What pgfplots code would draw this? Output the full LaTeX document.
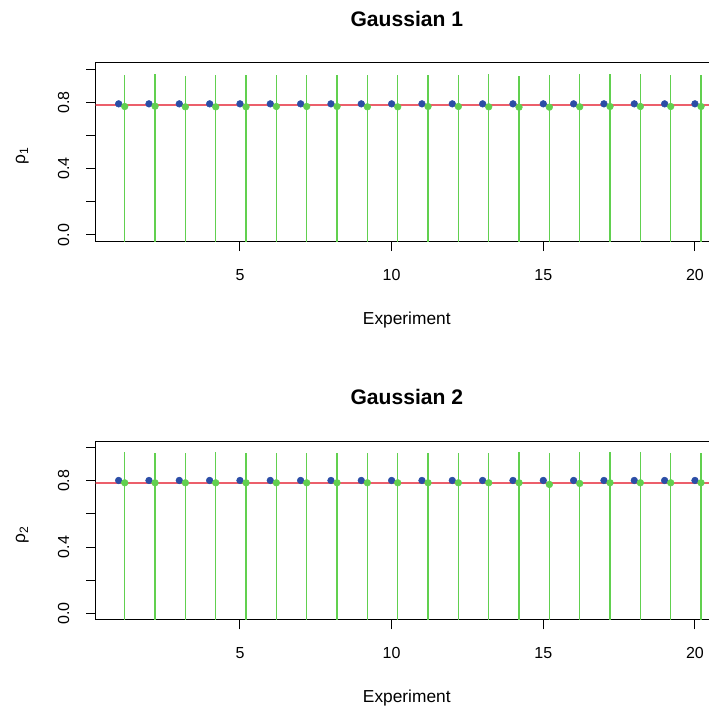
\documentclass[border=0pt]{standalone}
\usepackage{pgfplots}
\pgfplotsset{compat=1.18}
\usepackage{pgfplotstable}
\usepackage{fontspec}
\setmainfont{Liberation Sans}
\definecolor{rblue}{HTML}{2B4DA6}
\definecolor{rgreen}{HTML}{61D04F}
\definecolor{rred}{HTML}{EC5F6B}

% Gaussian 1: blue estimates
\pgfplotstableread{
x y
1 0.792
2 0.792
3 0.792
4 0.792
5 0.792
6 0.792
7 0.792
8 0.792
9 0.792
10 0.792
11 0.792
12 0.792
13 0.792
14 0.792
15 0.792
16 0.792
17 0.792
18 0.792
19 0.792
20 0.792
}\blueA
% Gaussian 1: green estimates with upper/lower extents
\pgfplotstableread{
x y ep em
1.2 0.776 0.191 1.0
2.2 0.778 0.192 1.0
3.2 0.774 0.187 1.0
4.2 0.774 0.190 1.0
5.2 0.774 0.193 1.0
6.2 0.776 0.189 1.0
7.2 0.776 0.192 1.0
8.2 0.776 0.190 1.0
9.2 0.774 0.190 1.0
10.2 0.774 0.193 1.0
11.2 0.776 0.193 1.0
12.2 0.776 0.188 1.0
13.2 0.774 0.196 1.0
14.2 0.772 0.186 1.0
15.2 0.772 0.195 1.0
16.2 0.774 0.199 1.0
17.2 0.776 0.194 1.0
18.2 0.776 0.194 1.0
19.2 0.776 0.188 1.0
20.2 0.776 0.188 1.0
}\greenA
% Gaussian 2: blue estimates
\pgfplotstableread{
x y
1 0.802
2 0.802
3 0.802
4 0.802
5 0.802
6 0.802
7 0.802
8 0.802
9 0.802
10 0.802
11 0.802
12 0.802
13 0.802
14 0.802
15 0.802
16 0.802
17 0.802
18 0.802
19 0.802
20 0.802
}\blueB
% Gaussian 2: green estimates
\pgfplotstableread{
x y ep em
1.2 0.788 0.183 1.0
2.2 0.788 0.177 1.0
3.2 0.788 0.177 1.0
4.2 0.788 0.183 1.0
5.2 0.788 0.179 1.0
6.2 0.788 0.180 1.0
7.2 0.788 0.182 1.0
8.2 0.788 0.178 1.0
9.2 0.788 0.181 1.0
10.2 0.788 0.179 1.0
11.2 0.788 0.182 1.0
12.2 0.788 0.181 1.0
13.2 0.788 0.177 1.0
14.2 0.788 0.183 1.0
15.2 0.778 0.189 1.0
16.2 0.784 0.187 1.0
17.2 0.788 0.187 1.0
18.2 0.788 0.183 1.0
19.2 0.788 0.179 1.0
20.2 0.788 0.181 1.0
}\greenB

\pgfplotsset{rstyle/.style={
  scale only axis, width=466.8pt, height=134.1pt,
  xmin=0.24, xmax=20.76, ymin=-0.04, ymax=1.04,
  axis line style={line width=0.75pt, black},
  tick style={line width=0.75pt, black},
  tick align=outside, major tick length=7.2pt,
  xtick={5,10,15,20}, ytick={0,0.2,0.4,0.6,0.8,1.0},
  yticklabels={0.0,,0.4,,0.8,},
  xtick pos=bottom, ytick pos=left,
  minor tick num=0,
  /pgf/number format/assume math mode=true,
  tick label style={font=\fontsize{12}{14}\selectfont},
  xticklabel style={anchor=north, inner sep=0pt},
  xticklabel shift=13.5pt,
  yticklabel style={rotate=90, anchor=base, inner sep=0pt},
  yticklabel shift=12.75pt,
  label style={font=\fontsize{13}{15}\selectfont},
  xlabel style={at={([yshift=-62pt]axis description cs:0.5,0)}, anchor=base},
  ylabel style={at={([xshift=-52.8pt,yshift=-3pt]axis description cs:0,0.5)}, anchor=base, rotate=0},
  title style={at={([yshift=21.5pt]axis description cs:0.5,1)}, anchor=base, font=\fontsize{15.8}{18}\selectfont\bfseries},
  clip=true,
}}

\begin{document}
\begin{tikzpicture}
\useasboundingbox (0,0) rectangle (531.75pt,529.5pt);
\clip (0,0) rectangle (531.75pt,529.5pt);
\begin{axis}[rstyle, at={(71.7pt,348.3pt)}, anchor=south west,
  title={Gaussian 1}, xlabel={Experiment}, ylabel={ρ\textsubscript{1}}]
\addplot[only marks, mark=*, mark size=2.5pt, color=rblue] table[x=x,y=y] {\blueA};
\addplot[only marks, mark=*, mark size=2.5pt, color=rgreen,
  error bars/.cd, y dir=both, y explicit, error mark=none,
  error bar style={rgreen, line width=0.9pt}]
  table[x=x, y=y, y error plus=ep, y error minus=em] {\greenA};
\addplot[rred, line width=1.5pt] coordinates {(0,0.786) (22,0.786)};
\end{axis}
\begin{axis}[rstyle, at={(71.7pt,64.6pt)}, anchor=south west,
  title={Gaussian 2}, xlabel={Experiment}, ylabel={ρ\textsubscript{2}}]
\addplot[only marks, mark=*, mark size=2.5pt, color=rblue] table[x=x,y=y] {\blueB};
\addplot[only marks, mark=*, mark size=2.5pt, color=rgreen,
  error bars/.cd, y dir=both, y explicit, error mark=none,
  error bar style={rgreen, line width=0.9pt}]
  table[x=x, y=y, y error plus=ep, y error minus=em] {\greenB};
\addplot[rred, line width=1.5pt] coordinates {(0,0.786) (22,0.786)};
\end{axis}
\end{tikzpicture}
\end{document}
